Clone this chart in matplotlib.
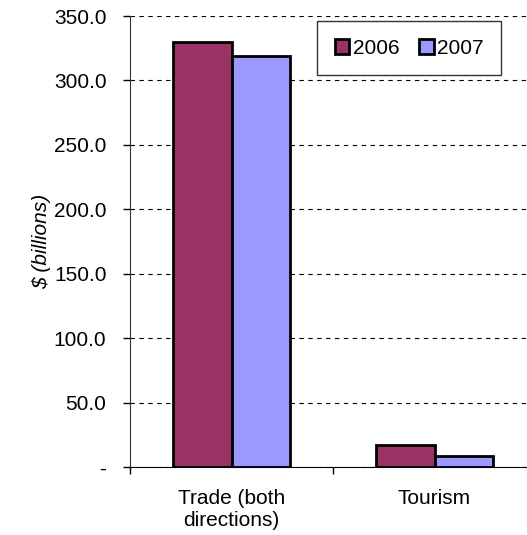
import matplotlib
matplotlib.use("Agg")
import matplotlib.pyplot as plt
import numpy as np

# data
categories = ["Trade (both\ndirections)", "Tourism"]
series_names = ["2006", "2007"]
values_2006 = [329.5, 17.0]
values_2007 = [319.0, 8.5]
y_ticks = [0, 50, 100, 150, 200, 250, 300, 350]
y_tick_labels = ["-", "50.0", "100.0", "150.0", "200.0", "250.0", "300.0", "350.0"]

COL_2006 = "#993366"
COL_2007 = "#9999FF"

plt.rcParams["font.family"] = ["Liberation Sans", "DejaVu Sans"]
plt.rcParams["font.size"] = 15

fig = plt.figure(figsize=(5.27, 5.35), dpi=100)
# axes run slightly past the right edge of the picture, like the original
ax = fig.add_axes([130 / 527, 68 / 535, 406 / 527, 451 / 535])

x = np.arange(len(categories))
w = 0.29
ax.bar(x - w / 2, values_2006, w, color=COL_2006, edgecolor="black",
       linewidth=2.0, label=series_names[0], zorder=3)
ax.bar(x + w / 2, values_2007, w, color=COL_2007, edgecolor="black",
       linewidth=2.0, label=series_names[1], zorder=3)

ax.set_xlim(-0.5, len(categories) - 0.5)
ax.set_ylim(0, 350)

ax.set_yticks(y_ticks)
ax.set_yticklabels(y_tick_labels)
ax.yaxis.grid(True, linestyle=(0, (4, 4)), color="black", linewidth=0.8, zorder=0)

ax.set_xticks(x)
ax.set_xticklabels(categories)
ax.set_xticks(np.arange(len(categories) + 1) - 0.5, minor=True)
ax.tick_params(axis="x", which="major", length=0, pad=16)
ax.tick_params(axis="x", which="minor", length=5, width=1, direction="out")
ax.tick_params(axis="y", length=5, width=1, direction="out", pad=12)

for s in ["top", "right"]:
    ax.spines[s].set_visible(False)
ax.spines["left"].set_color("#333333")
ax.spines["bottom"].set_color("black")

ax.set_ylabel("$ (billions)", style="italic", labelpad=2)

leg = ax.legend(loc="upper right", bbox_to_anchor=((501 - 130) / 406, (467 - 21) / 451),
                bbox_transform=ax.transAxes, ncol=2, frameon=True, fancybox=False,
                edgecolor="black", handlelength=0.7, handleheight=0.75,
                handletextpad=0.15, columnspacing=0.95, borderpad=0.85,
                borderaxespad=0)
leg.get_frame().set_linewidth(1.0)
for h in leg.legend_handles:
    h.set_linewidth(2.0)

fig.savefig("out.png", dpi=100)
